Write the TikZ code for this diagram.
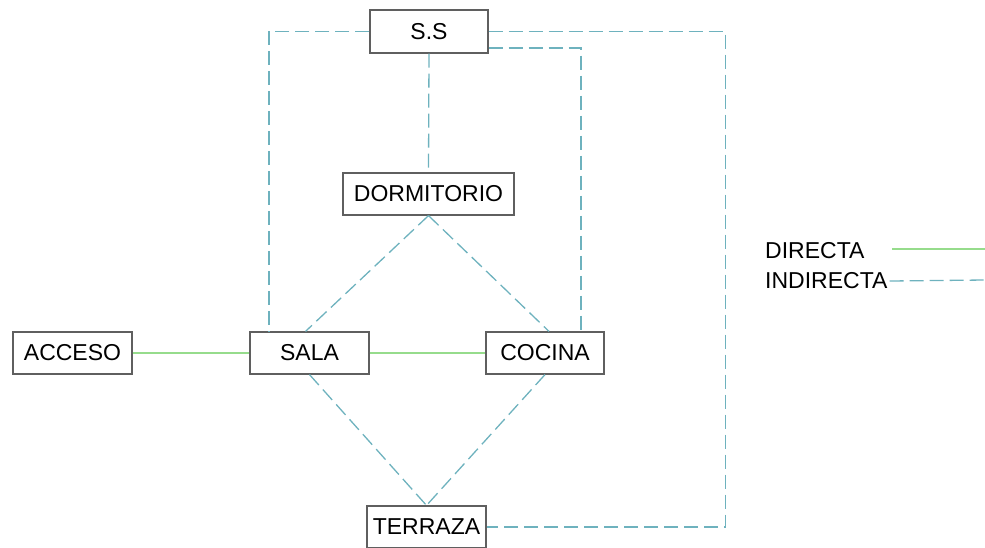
\documentclass[tikz,border=0pt]{standalone}
\usepackage{fontspec}
\setmainfont{Liberation Sans}
\definecolor{boxgray}{RGB}{95,95,95}
\definecolor{indcol}{RGB}{110,178,190}
\definecolor{dircol}{RGB}{150,220,140}
\begin{document}
\begin{tikzpicture}[x=1pt,y=-1pt,
  room/.style={draw=boxgray,line width=1.2pt,fill=white,minimum height=42pt,inner sep=0pt,font=\fontsize{23}{27}\selectfont},
  lbl/.style={inner sep=0pt,font=\fontsize{23}{27}\selectfont},
  ind/.style={draw=indcol,line width=1.3pt,dash pattern=on 14pt off 6pt},
  dir/.style={draw=dircol,line width=1.3pt}]
\useasboundingbox (0,0) rectangle (985,547);
% nodes
\node[room,minimum width=118pt,minimum height=43pt] (ss) at (429,31.5) {S.S};
\node[room,minimum width=171pt] (dorm) at (428.5,194) {DORMITORIO};
\node[room,minimum width=119pt] (acceso) at (72.5,353) {ACCESO};
\node[room,minimum width=119pt] (sala) at (309.5,353) {SALA};
\node[room,minimum width=118pt] (cocina) at (545,353) {COCINA};
\node[room,minimum width=119pt] (terraza) at (426.5,527) {TERRAZA};
% connectors
\draw[ind] (ss.west) -| ([xshift=-40.5pt]sala.north);
\draw[ind] (ss.east) -- ++(237,0) |- (terraza.east);
\draw[ind] ([yshift=-16.5pt]ss.east) -| ([xshift=36pt]cocina.north);
\draw[ind] (ss.south) -- (dorm.north);
\draw[ind] (dorm.south) -- ([xshift=-4pt]sala.north);
\draw[ind] (dorm.south) -- ([xshift=4pt]cocina.north);
\draw[ind] (sala.south) -- (terraza.north);
\draw[ind] (cocina.south) -- (terraza.north);
\draw[dir] (acceso.east) -- (sala.west);
\draw[dir] (sala.east) -- (cocina.west);
% legend
\node[lbl,anchor=west] (ldir) at (765,251) {DIRECTA};
\node[lbl,anchor=west] (lind) at (765,281) {INDIRECTA};
\coordinate (dirA) at (892,249);
\coordinate (dirB) at (985,249);
\coordinate (indB) at (985,280);
\draw[dir] (dirA) -- (dirB);
\draw[ind] ([xshift=2pt]lind.east) -- (indB);
\end{tikzpicture}
\end{document}
